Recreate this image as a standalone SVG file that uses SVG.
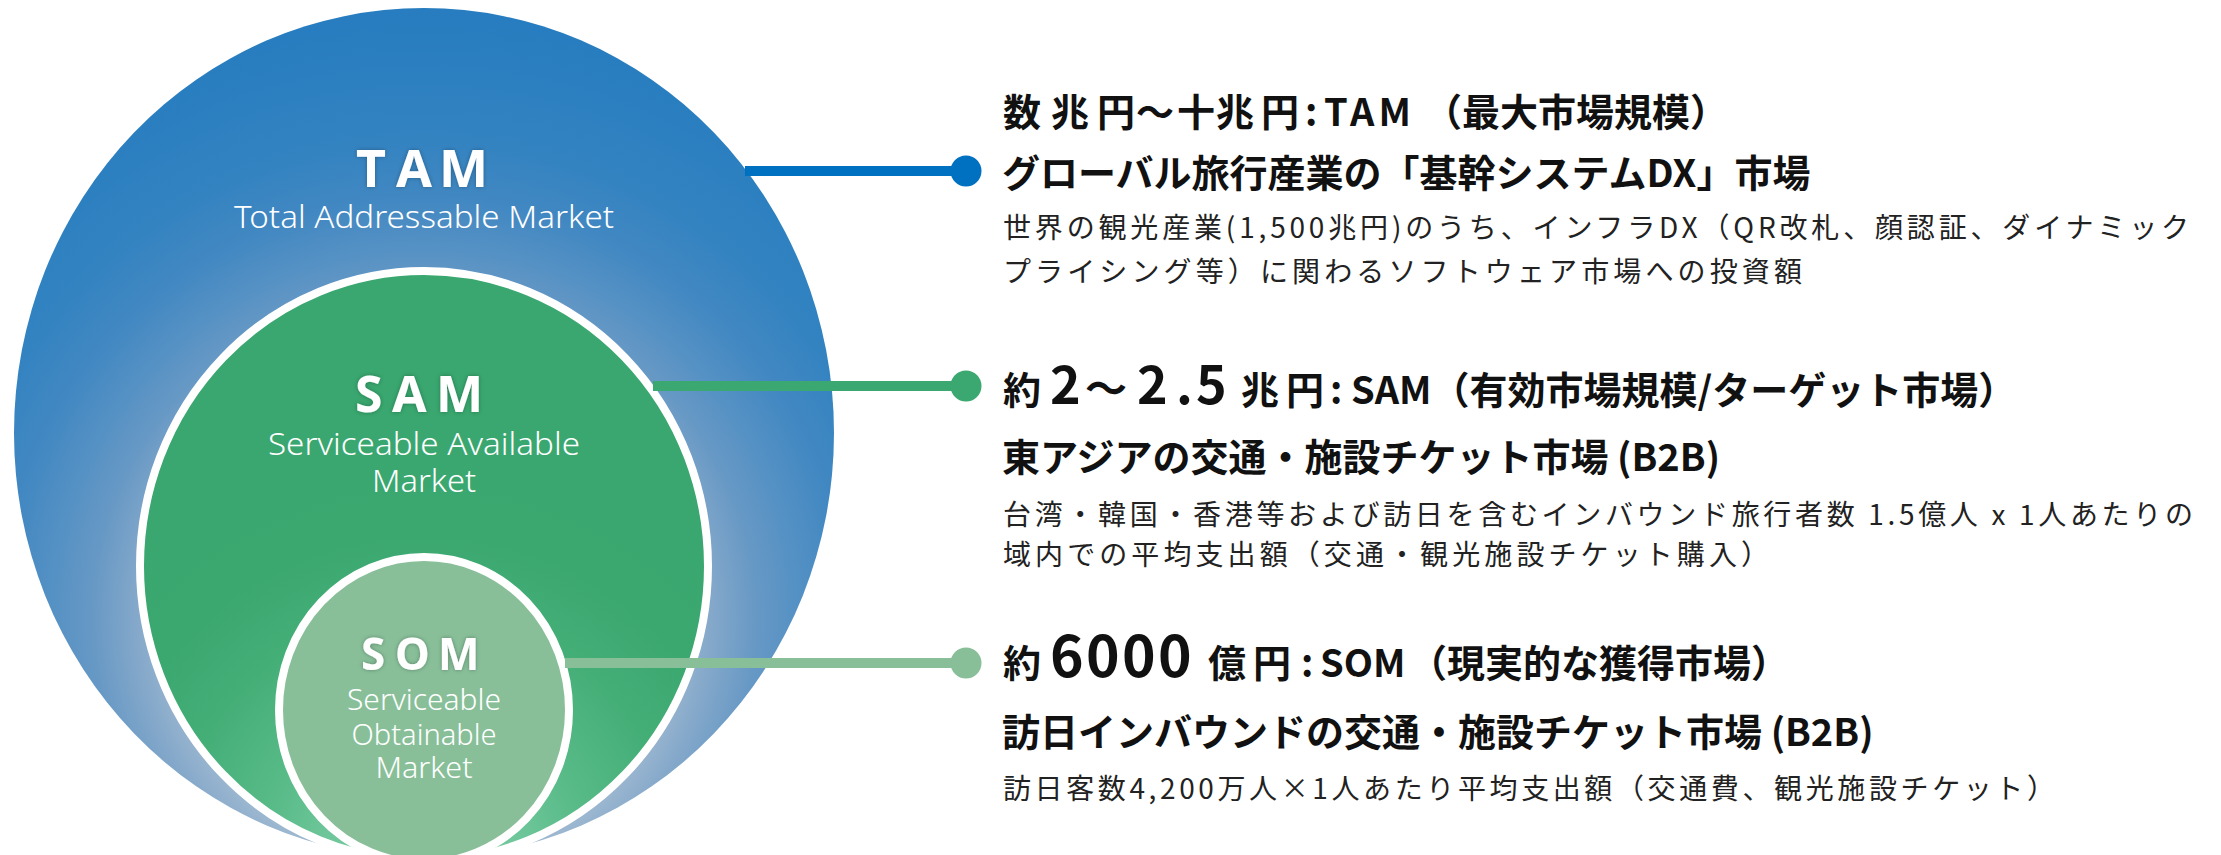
<svg xmlns="http://www.w3.org/2000/svg" width="2221" height="855" viewBox="0 0 2221 855">
<style>
.hd{font-family:'Noto Sans CJK JP',sans-serif;font-weight:700;font-size:38px;fill:#111}
.big{font-size:52px}
.tl{font-size:42px}
.big2{font-size:57px}
.ds{font-family:'Noto Sans CJK JP',sans-serif;font-weight:400;font-size:28px;fill:#222}
.lb{font-family:'Noto Sans','Noto Sans CJK JP',sans-serif;font-weight:700;fill:#fff}
.sub{font-family:'Noto Sans',sans-serif;font-weight:300;fill:#fff;text-anchor:middle}
.ring{stroke:#fff;stroke-width:8}
.conn{stroke-width:10;fill:none}
</style>
<defs>
<radialGradient id="gTam" gradientUnits="userSpaceOnUse" cx="424" cy="620" r="600">
<stop offset="0" stop-color="#B2C6DA"/>
<stop offset="0.42" stop-color="#9CB7D0"/>
<stop offset="0.48" stop-color="#84A8CA"/>
<stop offset="0.55" stop-color="#6899C5"/>
<stop offset="0.62" stop-color="#5591C4"/>
<stop offset="0.70" stop-color="#4288C2"/>
<stop offset="0.80" stop-color="#3383C1"/>
<stop offset="1" stop-color="#277DBF"/>
</radialGradient>
<radialGradient id="gSam" gradientUnits="userSpaceOnUse" cx="424" cy="860" r="420">
<stop offset="0" stop-color="#82D1AA"/>
<stop offset="0.25" stop-color="#6CC598"/>
<stop offset="0.38" stop-color="#58BB88"/>
<stop offset="0.6" stop-color="#44AE77"/>
<stop offset="0.78" stop-color="#3BA870"/>
<stop offset="1" stop-color="#39A76F"/>
</radialGradient>
<filter id="glow" x="-20%" y="-40%" width="140%" height="180%">
<feDropShadow dx="0" dy="0" stdDeviation="2" flood-color="#000" flood-opacity="0.3"/>
</filter>
</defs>

<g id="node-tam">
<ellipse cx="424" cy="433" rx="410" ry="425" fill="url(#gTam)"/>
<text class="lb" font-size="52" y="187" filter="url(#glow)"><tspan x="356">T</tspan><tspan x="396">A</tspan><tspan x="439">M</tspan></text>
<text class="sub" x="424" y="228" font-size="31" textLength="380" lengthAdjust="spacingAndGlyphs">Total Addressable Market</text>
</g>

<g id="node-sam">
<ellipse class="ring" cx="424" cy="566" rx="284" ry="295" fill="url(#gSam)"/>
<text class="lb" font-size="50" y="412" filter="url(#glow)"><tspan x="355">S</tspan><tspan x="392">A</tspan><tspan x="436">M</tspan></text>
<text class="sub" x="424" y="455" font-size="31" textLength="312" lengthAdjust="spacingAndGlyphs">Serviceable Available</text>
<text class="sub" x="424" y="492" font-size="31" textLength="104" lengthAdjust="spacingAndGlyphs">Market</text>
</g>

<g id="node-som">
<ellipse class="ring" cx="424" cy="710" rx="145" ry="153" fill="#88BF99"/>
<text class="lb" font-size="44" y="670" filter="url(#glow)"><tspan x="361">S</tspan><tspan x="395">O</tspan><tspan x="438">M</tspan></text>
<text class="sub" x="424" y="710" font-size="29" textLength="154" lengthAdjust="spacingAndGlyphs">Serviceable</text>
<text class="sub" x="424" y="745" font-size="29" textLength="145" lengthAdjust="spacingAndGlyphs">Obtainable</text>
<text class="sub" x="424" y="778" font-size="29" textLength="97" lengthAdjust="spacingAndGlyphs">Market</text>
</g>

<g id="connectors">
<line class="conn" x1="745" y1="171" x2="966" y2="171" stroke="#0070C0"/>
<circle cx="966" cy="171" r="15.5" fill="#0070C0"/>
<line class="conn" x1="653" y1="386" x2="966" y2="386" stroke="#3AA870"/>
<circle cx="966" cy="386" r="15.5" fill="#3AA870"/>
<line class="conn" x1="565" y1="663" x2="966" y2="663" stroke="#88BF99"/>
<circle cx="966" cy="663" r="15.5" fill="#88BF99"/>
</g>

<g id="text-tam">
<text class="hd" y="126"><tspan x="1003">数</tspan><tspan x="1051">兆</tspan><tspan x="1097">円</tspan><tspan x="1136">～</tspan><tspan x="1177">十</tspan><tspan x="1216">兆</tspan><tspan x="1261">円</tspan><tspan x="1305">:</tspan><tspan x="1324" letter-spacing="4">TAM</tspan><tspan x="1424">（最大市場規模）</tspan></text>
<text class="hd" x="1002" y="187">グローバル旅行産業の「基幹システムDX」市場</text>
<text class="ds" x="1003" y="238" textLength="1186" lengthAdjust="spacing">世界の観光産業(1,500兆円)のうち、インフラDX（QR改札、顔認証、ダイナミック</text>
<text class="ds" x="1003" y="282" textLength="799" lengthAdjust="spacing">プライシング等）に関わるソフトウェア市場への投資額</text>
</g>

<g id="text-sam">
<text class="hd" y="404"><tspan x="1003">約</tspan><tspan class="big" x="1050">2</tspan><tspan class="tl" x="1085">～</tspan><tspan class="big" x="1137">2</tspan><tspan class="big" x="1176">.</tspan><tspan class="big" x="1196">5</tspan><tspan x="1241">兆</tspan><tspan x="1286">円</tspan><tspan x="1330">:</tspan><tspan x="1351">SAM（有効市場規模/ターゲット市場）</tspan></text>
<text class="hd" x="1002" y="471">東アジアの交通・施設チケット市場 (B2B)</text>
<text class="ds" x="1003" y="525" textLength="1190" lengthAdjust="spacing">台湾・韓国・香港等および訪日を含むインバウンド旅行者数 1.5億人 x 1人あたりの</text>
<text class="ds" x="1003" y="565" textLength="766" lengthAdjust="spacing">域内での平均支出額（交通・観光施設チケット購入）</text>
</g>

<g id="text-som">
<text class="hd" y="677"><tspan x="1003">約</tspan><tspan class="big2" x="1050">6</tspan><tspan class="big2" x="1086">0</tspan><tspan class="big2" x="1122">0</tspan><tspan class="big2" x="1158">0</tspan><tspan x="1208">億</tspan><tspan x="1253">円</tspan><tspan x="1301">:</tspan><tspan x="1320">SOM</tspan><tspan x="1409">（現実的な獲得市場）</tspan></text>
<text class="hd" x="1002" y="746">訪日インバウンドの交通・施設チケット市場 (B2B)</text>
<text class="ds" x="1003" y="799" textLength="1052" lengthAdjust="spacing">訪日客数4,200万人×1人あたり平均支出額（交通費、観光施設チケット）</text>
</g>
</svg>
